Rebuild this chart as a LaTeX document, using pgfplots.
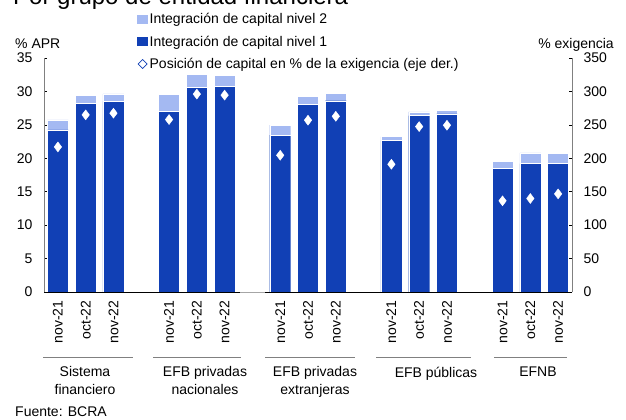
\documentclass[border=0pt]{standalone}
\usepackage{pgfplots}
\pgfplotsset{compat=1.18}
\usepackage{pgfplotstable}
\usepackage{fontspec}
\setmainfont{Liberation Sans}

\definecolor{nivUno}{HTML}{1140B5}
\definecolor{nivDos}{HTML}{A4B9F2}
\definecolor{ejegris}{HTML}{808080}

% x: position of the bar (groups of three, one empty slot between groups)
\pgfplotstableread{
x  n1     n2    pos
0  24.25  1.50  217.0
1  28.20  1.20  265.0
2  28.50  1.15  267.5
4  27.00  2.60  258.0
5  30.60  2.00  296.0
6  30.75  1.70  294.5
8  23.45  1.50  204.5
9  28.10  1.15  257.0
10 28.62  1.05  262.8
12 22.65  0.60  191.1
13 26.38  0.55  247.4
14 26.63  0.50  249.4
16 18.52  1.04  136.4
17 19.21  1.59  139.9
18 19.21  1.49  146.8
}\datos

\begin{document}
\begin{tikzpicture}[x=1bp, y=1bp, font=\fontsize{14bp}{17.5bp}\selectfont]
\path[use as bounding box] (0,0) rectangle (626,-419);

\pgfplotsset{
  base/.style={
    at={(44bp,-292bp)}, anchor=south west,
    width=528bp, height=234bp, scale only axis,
    xmin=-0.5, xmax=18.5,
    tick align=inside, major tick length=3bp,
    tick style={black, line width=0.5pt},
    /pgf/number format/assume math mode=true,
    axis on top,
  },
}

\begin{axis}[
  base,
  ymin=0, ymax=35, ytick={0,5,...,35},
  ybar stacked, bar width=21bp,
  axis y line*=left, axis x line*=bottom,
  y axis line style={ejegris, line width=0.8pt},
  x axis line style={black, line width=0.8pt},
  xtick={0,1,2,4,5,6,8,9,10,12,13,14,16,17,18},
  xticklabels={nov-21,oct-22,nov-22,nov-21,oct-22,nov-22,nov-21,oct-22,nov-22,
               nov-21,oct-22,nov-22,nov-21,oct-22,nov-22},
  xtick style={draw=none},
  xticklabel style={rotate=90, anchor=east},
  xticklabel shift=5bp,
  yticklabel style={xshift=-8bp},
  legend style={at={(0.176,1.191)}, anchor=north west, draw=none, fill=none,
                inner sep=0pt, row sep=10.5bp,
                nodes={inner xsep=2bp, inner ysep=0pt},
                font=\fontsize{14bp}{17bp}\selectfont},
  legend cell align=left,
  legend image code/.code={\fill[#1] (0bp,-4.5bp) rectangle (10.5bp,4.5bp);},
]
\addplot[fill=nivUno, draw=white, line width=0.3pt, forget plot]
  table[x=x, y=n1] {\datos};
\addplot[fill=nivDos, draw=white, line width=0.3pt, forget plot]
  table[x=x, y=n2] {\datos};
\addlegendimage{fill=nivDos, draw=none}
\addlegendentry{Integración de capital nivel 2}
\addlegendimage{fill=nivUno, draw=none}
\addlegendentry{Integración de capital nivel 1}
\addlegendimage{legend image code/.code={
  \draw[nivUno, fill=white, line width=0.6pt]
    (5.5bp,-4.5bp) -- (10bp,0bp) -- (5.5bp,4.5bp) -- (1bp,0bp) -- cycle;}}
\addlegendentry{Posición de capital en \% de la exigencia (eje der.)}
\end{axis}

\begin{axis}[
  base,
  ymin=0, ymax=350, ytick={0,50,...,350},
  axis y line*=right, axis x line=none,
  y axis line style={ejegris, line width=0.8pt},
  yticklabel style={xshift=8bp},
]
\addplot[only marks, mark=diamond*, mark size=5bp,
  mark options={fill=white, draw=white}]
  table[x=x, y=pos] {\datos};
\end{axis}

% gap in the base line
\draw[white, line width=1.6pt] (240,-292) -- (265,-292);
\draw[ejegris!70, line width=0.5pt] (240,-292) -- (265,-292);

% axis titles
\node[anchor=base west, inner sep=0pt] at (15,-48) {\% APR};
\node[anchor=base east, inner sep=0pt] at (614,-48) {\% exigencia};

% group brackets and names
\foreach \a/\b in {43/133, 153/241, 265/355, 376/471, 494/567}
  \draw[ejegris, line width=1pt] (\a,-357) -- (\b,-357);
\foreach \cx/\txt in {85/{Sistema\\financiero}, 205/{EFB privadas\\nacionales},
    315/{EFB privadas\\extranjeras}, 436/{EFB públicas}, 538/{EFNB}}
  \node[anchor=north, align=center, inner sep=0pt] at (\cx,-366.5) {\txt};

% title (cut at the top) and source
\node[anchor=base west, inner sep=0pt, font=\fontsize{24bp}{28bp}\selectfont]
  at (13,-4) {Por grupo de entidad financiera};
\node[anchor=base west, inner sep=0pt] at (15,-416) {Fuente: BCRA};
\end{tikzpicture}
\end{document}
